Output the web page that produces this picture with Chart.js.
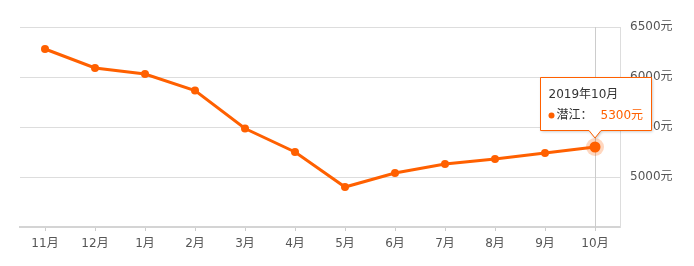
<!DOCTYPE html>
<html>
<head>
<meta charset="utf-8">
<script src="https://cdn.jsdelivr.net/npm/chart.js@4"></script>
<style>
  html, body { margin: 0; padding: 0; background: #fff; }
  #wrap { width: 694px; height: 266px; }
</style>
</head>
<body>
<div id="wrap"><canvas id="priceChart" width="694" height="266"></canvas></div>
<script>
// 月份标签与房价数据（元/㎡）
const months = ['11月', '12月', '1月', '2月', '3月', '4月', '5月', '6月', '7月', '8月', '9月', '10月'];
const prices = [6280, 6090, 6030, 5865, 5485, 5250, 4900, 5040, 5130, 5180, 5240, 5300];
const yTicks = [4500, 5000, 5500, 6000, 6500];
const cityName = '潜江';
const activeIndex = 11;
const activeTitle = '2019年10月';

const ORANGE = '#ff6000';
const FONT = '"DejaVu Sans", "Noto Sans CJK SC", sans-serif';

// 悬停效果：竖线 + 光晕 + 提示框（位置取自库计算的点坐标）
const hoverPlugin = {
  id: 'hoverPlugin',
  beforeDatasetsDraw(chart) {
    const pt = chart.getDatasetMeta(0).data[activeIndex];
    const area = chart.chartArea;
    const c = chart.ctx;
    c.save();
    c.strokeStyle = '#cccccc';
    c.lineWidth = 1;
    c.beginPath();
    c.moveTo(Math.round(pt.x) + 0.5, area.top);
    c.lineTo(Math.round(pt.x) + 0.5, area.bottom + 3);
    c.stroke();
    c.restore();
  },
  afterDatasetsDraw(chart) {
    const pt = chart.getDatasetMeta(0).data[activeIndex];
    const c = chart.ctx;
    c.save();
    // 光晕
    c.fillStyle = 'rgba(255, 96, 0, 0.25)';
    c.beginPath();
    c.arc(pt.x, pt.y, 9, 0, Math.PI * 2);
    c.fill();
    c.fillStyle = ORANGE;
    c.beginPath();
    c.arc(pt.x, pt.y, 5.5, 0, Math.PI * 2);
    c.fill();

    // 提示框
    const left = pt.x - 54.5, right = pt.x + 56.5;
    const bottom = pt.y - 16.5, top = bottom - 53;
    const tipY = pt.y - 9;
    c.shadowColor = 'rgba(0,0,0,0.25)';
    c.shadowBlur = 3;
    c.shadowOffsetX = 1;
    c.shadowOffsetY = 1;
    c.fillStyle = '#ffffff';
    c.strokeStyle = ORANGE;
    c.lineWidth = 1;
    c.beginPath();
    c.moveTo(left, top);
    c.lineTo(right, top);
    c.lineTo(right, bottom);
    c.lineTo(pt.x + 6, bottom);
    c.lineTo(pt.x, tipY);
    c.lineTo(pt.x - 6, bottom);
    c.lineTo(left, bottom);
    c.closePath();
    c.fill();
    c.shadowColor = 'transparent';
    c.stroke();

    c.textBaseline = 'middle';
    c.textAlign = 'left';
    c.font = '12px ' + FONT;
    c.fillStyle = '#333333';
    c.fillText(activeTitle, left + 8, top + 17);
    c.fillStyle = ORANGE;
    c.beginPath();
    c.arc(left + 11, top + 38, 3, 0, Math.PI * 2);
    c.fill();
    c.fillStyle = '#333333';
    c.fillText(cityName + '：', left + 16, top + 38);
    c.fillStyle = ORANGE;
    c.fillText(prices[activeIndex] + '元', left + 60, top + 38);
    c.restore();
  }
};

new Chart(document.getElementById('priceChart'), {
  type: 'line',
  data: {
    labels: months,
    datasets: [{
      label: cityName,
      data: prices,
      borderColor: ORANGE,
      backgroundColor: ORANGE,
      borderWidth: 3,
      pointRadius: 4,
      pointBorderWidth: 0,
      tension: 0,
      fill: false
    }]
  },
  options: {
    responsive: false,
    animation: false,
    events: [],
    layout: { padding: { left: 20, top: 27, right: 0, bottom: 0 } },
    plugins: {
      legend: { display: false },
      tooltip: { enabled: false }
    },
    scales: {
      x: {
        offset: true,
        grid: { offset: false, drawOnChartArea: false, drawTicks: true, tickLength: 4, color: '#cccccc' },
        border: { color: '#d4d4d4', width: 2 },
        ticks: { color: '#555555', font: { size: 12, family: FONT }, padding: 6, maxRotation: 0 },
        afterFit(scale) { scale.height = 39; }
      },
      y: {
        position: 'right',
        min: 4500,
        max: 6500,
        afterBuildTicks(scale) { scale.ticks = yTicks.map(v => ({ value: v })); },
        grid: { color: '#dddddd', drawTicks: false },
        border: { color: '#dddddd', width: 1 },
        ticks: {
          color: '#555555',
          font: { size: 12, family: FONT },
          padding: 10,
          callback: v => (v === 4500 ? '' : v + '元')
        },
        afterFit(scale) { scale.width = 74; }
      }
    }
  },
  plugins: [hoverPlugin]
});
</script>
</body>
</html>
